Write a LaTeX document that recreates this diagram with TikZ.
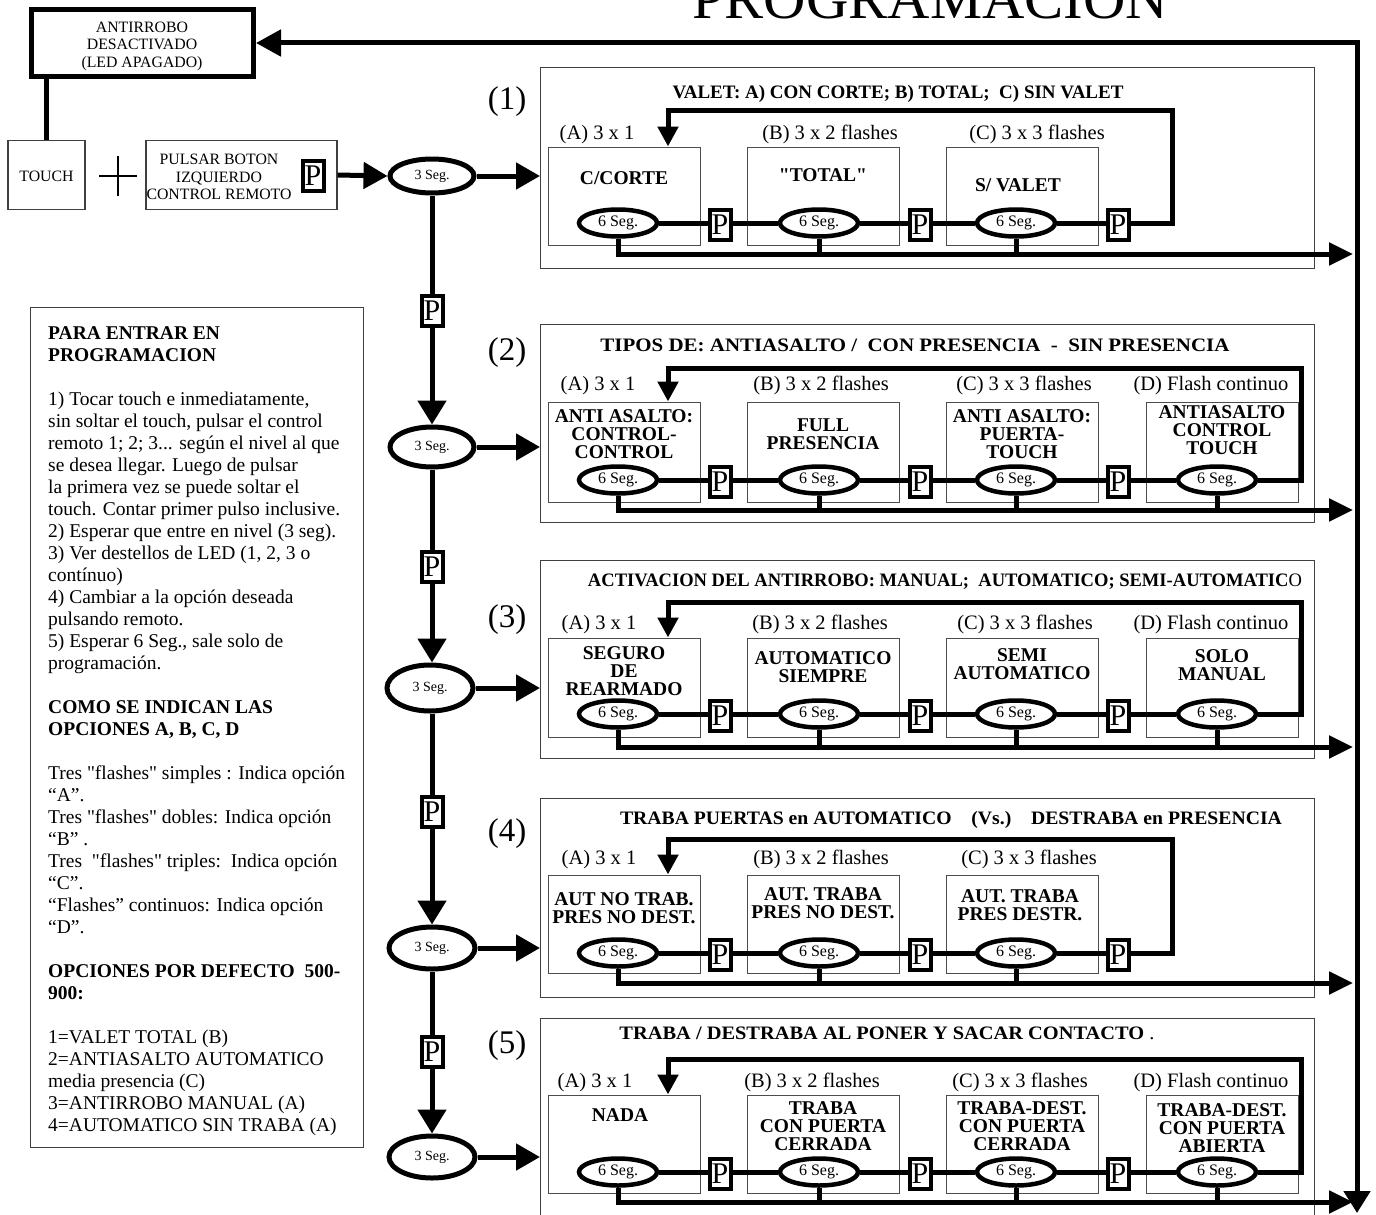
\documentclass[tikz,border=0pt]{standalone}
\usepackage{fontspec}
\setmainfont{Liberation Serif}[Ligatures=TeXOff]
\usepackage{graphicx}
\usetikzlibrary{arrows.meta,shapes.geometric}
\newcommand\fw[2]{\resizebox{#1pt}{\height}{#2}}
\newcommand\fs[2]{\fontsize{#1}{#2}\selectfont}
\tikzset{
 thickline/.style={line width=5pt},
 arrH/.style={thickline,-{Triangle[length=24pt,width=26pt]}},
 arrV/.style={thickline,-{Triangle[length=24pt,width=28pt]}},
 arrLoop/.style={thickline,-{Triangle[length=20pt,width=20pt]}},
 arrBot/.style={thickline,-{Triangle[length=24pt,width=22pt]}},
 panelbox/.style={draw=black!75,line width=1.2pt,inner sep=0pt},
 optbox/.style={draw=black!70,line width=1pt,minimum width=152pt,inner sep=0pt},
 thinbox/.style={draw=black!75,line width=1.2pt,inner sep=0pt},
 pbox/.style={draw,line width=4pt,fill=white,minimum width=21pt,minimum height=30pt,inner sep=0pt,font=\fs{30}{30}},
 ellsix/.style={ellipse,draw,line width=4.5pt,fill=white,minimum width=78pt,minimum height=27pt,inner sep=0pt,font=\fs{16}{16}},
 ellthree/.style={ellipse,draw,line width=5pt,fill=white,minimum width=84pt,inner sep=0pt,font=\fs{14}{14}},
 boxtext/.style={align=center,font=\bfseries\fs{19.5}{18},inner sep=0pt},
 labtext/.style={font=\fs{20.5}{20},inner sep=0pt,anchor=base},
 titletext/.style={font=\bfseries\fs{19}{20},inner sep=0pt,anchor=base},
 numtext/.style={font=\fs{33}{33},inner sep=0pt},
 smalltext/.style={align=center,font=\fs{15.8}{17.5},inner sep=0pt},
}
% #1 id, #2 panel top, #3 panel bottom, #4 loop y, #5 box top, #6 box bottom, #7 ellipse y, #8 bottom line y, #9 number of options
\newcommand\mkpanel[9]{%
 \node[panelbox,anchor=north west,minimum width=774pt,minimum height={(#3-#2)*1pt}] (pan#1) at (540,#2) {};
 \foreach \l/\bx/\ex [count=\i] in {a/624/618,b/823/819,c/1022/1016,d/1222/1217}{%
   \ifnum\i>#9\relax\else
   \node[optbox,minimum height={(#6-#5)*1pt}] (b#1\l) at (\bx,{(#5+#6)/2}) {};
   \node[ellsix] (e#1\l) at (\ex,#7) {6 Seg.};
   \fi}
 \foreach \l/\px in {a/720,b/920,c/1118}{\node[pbox] (p#1\l) at (\px,{#7+2}) {P};}
 \coordinate (lx#1) at (668,#4);
 \coordinate (bl#1) at (1353,#8);
 \draw[thickline] (e#1a.east) -- (e#1a.east -| p#1a.west);
 \draw[thickline] (p#1a.east |- e#1b.west) -- (e#1b.west);
 \draw[thickline] (e#1b.east) -- (e#1b.east -| p#1b.west);
 \draw[thickline] (p#1b.east |- e#1c.west) -- (e#1c.west);
 \draw[thickline] (e#1c.east) -- (e#1c.east -| p#1c.west);
 \draw[arrBot] (e#1a.south) |- (bl#1);
 \draw[thickline] (e#1b.south) -- (e#1b.south |- bl#1);
 \draw[thickline] (e#1c.south) -- (e#1c.south |- bl#1);
 \ifnum#9=4
  \coordinate (lr#1) at (1301,#4);
  \draw[thickline] (p#1c.east |- e#1d.west) -- (e#1d.west);
  \draw[thickline] (e#1d.south) -- (e#1d.south |- bl#1);
  \draw[arrLoop] (e#1d.east) -- (e#1d.east -| lr#1) -- (lr#1) -- (lx#1) -- (lx#1 |- b#1a.north);
 \else
  \coordinate (lr#1) at (1172,#4);
  \draw[arrLoop] (p#1c.east |- e#1c.east) -- (e#1c.east -| lr#1) -- (lr#1) -- (lx#1) -- (lx#1 |- b#1a.north);
 \fi
}
\begin{document}
\begin{tikzpicture}[x=1pt,y=-1pt]
\useasboundingbox (0,0) rectangle (1376,1215);
% title
\node[font=\fs{58}{58},inner sep=0pt,anchor=base] (title) at (930,19) {\fw{476}{PROGRAMACION}};
% top left
\node[draw,line width=5pt,minimum width=222pt,minimum height=67pt,inner sep=0pt] (anti) at (142.5,43) {};
\node[smalltext] (antitxt) at (142,46) {ANTIRROBO\\DESACTIVADO\\(LED APAGADO)};
\node[thinbox,minimum width=77pt,minimum height=69pt] (touch) at (46.5,175) {};
\node[smalltext] (touchtxt) at (46.5,176) {TOUCH};
\node[thinbox,minimum width=191pt,minimum height=69pt] (pulsar) at (241.5,175) {};
\node[smalltext] (pulsartxt) at (219,177) {PULSAR BOTON\\IZQUIERDO\\CONTROL REMOTO};
\node[pbox] (p0) at (313,176) {P};
\coordinate (plus) at (118,176);
\draw[line width=2.2pt] ([xshift=-19pt]plus) -- ([xshift=19pt]plus) ([yshift=-20pt]plus) -- ([yshift=20pt]plus);
\draw[thickline] (touch.north |- anti.south) -- (touch.north);
\coordinate (rtop) at (1357,43);
\coordinate (rbot) at (1357,1213);
\draw[thickline,{Triangle[length=25pt,width=26pt]}-{Triangle[length=22pt,width=26pt]}] (anti.east) -- (rtop) -- (rbot);
% info box
\node[thinbox,anchor=north west,minimum width=333pt,minimum height=840pt] (infobox) at (30,307) {};
\node[anchor=base west,inner sep=0pt,font=\fs{19.5}{22}] (info) at (48,339.5) {\parbox[t]{400pt}{\raggedright
\textbf{PARA ENTRAR EN}\\
\textbf{PROGRAMACION}\\
\mbox{}\\
1) Tocar touch e inmediatamente,\\
sin soltar el touch, pulsar el control\\
remoto 1; 2; 3... según el nivel al que\\
se desea llegar. Luego de pulsar\\
la primera vez se puede soltar el\\
touch. Contar primer pulso inclusive.\\
2) Esperar que entre en nivel (3 seg).\\
3) Ver destellos de LED (1, 2, 3 o\\
contínuo)\\
4) Cambiar a la opción deseada\\
pulsando remoto.\\
5) Esperar 6 Seg., sale solo de\\
programación.\\
\mbox{}\\
\textbf{COMO SE INDICAN LAS}\\
\textbf{OPCIONES A, B, C, D}\\
\mbox{}\\
Tres "flashes" simples : Indica opción\\
“A”.\\
Tres "flashes" dobles: Indica opción\\
“B” .\\
Tres~~"flashes" triples:~~Indica opción\\
“C”.\\
“Flashes” continuos: Indica opción\\
“D”.\\
\mbox{}\\
\textbf{OPCIONES POR DEFECTO~~500-}\\
\textbf{900:}\\
\mbox{}\\
1=VALET TOTAL (B)\\
2=ANTIASALTO AUTOMATICO\\
media presencia (C)\\
3=ANTIRROBO MANUAL (A)\\
4=AUTOMATICO SIN TRABA (A)}};
% panels
\mkpanel{1}{67}{268}{110}{147}{245}{223}{254}{3}
\mkpanel{2}{324}{522}{368}{402}{502}{480}{510}{4}
\mkpanel{3}{560}{758}{602}{638}{737}{714}{747}{4}
\mkpanel{4}{798}{997}{839}{875}{973}{953}{983}{3}
\mkpanel{5}{1018}{1240}{1059}{1095}{1193}{1172}{1202}{4}
% panel titles
\node[titletext] (t1) at (898,98.5) {\fw{451}{VALET: A) CON CORTE; B) TOTAL;~~C) SIN VALET}};
\node[titletext] (t2) at (915,351.5) {\fw{629}{TIPOS DE: ANTIASALTO /~~CON PRESENCIA~~-~~SIN PRESENCIA}};
\node[titletext] (t3) at (945,586.5) {\fw{714}{ACTIVACION DEL ANTIRROBO: MANUAL;~~AUTOMATICO; SEMI-AUTOMATIC\textmd{O}}};
\node[titletext] (t4) at (951,824.5) {\fw{662}{TRABA PUERTAS en AUTOMATICO~~~~(Vs.)~~~~DESTRABA en PRESENCIA}};
\node[titletext] (t5) at (887,1039.5) {\fw{535}{TRABA / DESTRABA AL PONER Y SACAR CONTACTO\textmd{~.}}};
% panel numbers
\node[numtext] (n1) at (507,102) {(1)};
\node[numtext] (n2) at (507,353) {(2)};
\node[numtext] (n3) at (507,620) {(3)};
\node[numtext] (n4) at (507,834) {(4)};
\node[numtext] (n5) at (507,1046) {(5)};
% labels (baseline positions)
\node[labtext] (l1a) at (597,139) {(A) 3 x 1};
\node[labtext] (l1b) at (830,139) {(B) 3 x 2 flashes};
\node[labtext] (l1c) at (1037,139) {(C) 3 x 3 flashes};
\node[labtext] (l2a) at (598,390) {(A) 3 x 1};
\node[labtext] (l2b) at (821,390) {(B) 3 x 2 flashes};
\node[labtext] (l2c) at (1024,390) {(C) 3 x 3 flashes};
\node[labtext] (l2d) at (1211,390) {(D) Flash continuo};
\node[labtext] (l3a) at (599,629) {(A) 3 x 1};
\node[labtext] (l3b) at (820,629) {(B) 3 x 2 flashes};
\node[labtext] (l3c) at (1025,629) {(C) 3 x 3 flashes};
\node[labtext] (l3d) at (1211,629) {(D) Flash continuo};
\node[labtext] (l4a) at (599,864) {(A) 3 x 1};
\node[labtext] (l4b) at (821,864) {(B) 3 x 2 flashes};
\node[labtext] (l4c) at (1029,864) {(C) 3 x 3 flashes};
\node[labtext] (l5a) at (595,1087) {(A) 3 x 1};
\node[labtext] (l5b) at (812,1087) {(B) 3 x 2 flashes};
\node[labtext] (l5c) at (1020,1087) {(C) 3 x 3 flashes};
\node[labtext] (l5d) at (1211,1087) {(D) Flash continuo};
% box texts
\node[boxtext] (x1a) at (624,178) {C/CORTE};
\node[boxtext] (x1b) at (823,175) {"TOTAL"};
\node[boxtext] (x1c) at (1018,185) {S/ VALET};
\node[boxtext] (x2a) at (624,434) {ANTI ASALTO:\\CONTROL-\\CONTROL};
\node[boxtext] (x2b) at (823,434) {FULL\\PRESENCIA};
\node[boxtext] (x2c) at (1022,434) {ANTI ASALTO:\\PUERTA-\\TOUCH};
\node[boxtext] (x2d) at (1222,430) {ANTIASALTO\\CONTROL\\TOUCH};
\node[boxtext] (x3a) at (624,671) {SEGURO\\DE\\REARMADO};
\node[boxtext] (x3b) at (823,667) {AUTOMATICO\\SIEMPRE};
\node[boxtext] (x3c) at (1022,664) {SEMI\\AUTOMATICO};
\node[boxtext] (x3d) at (1222,665) {SOLO\\MANUAL};
\node[boxtext] (x4a) at (624,908) {AUT NO TRAB.\\PRES NO DEST.};
\node[boxtext] (x4b) at (823,903) {AUT. TRABA\\PRES NO DEST.};
\node[boxtext] (x4c) at (1020,905) {AUT. TRABA\\PRES DESTR.};
\node[boxtext] (x5a) at (620,1115) {NADA};
\node[boxtext] (x5b) at (823,1126) {TRABA\\CON PUERTA\\CERRADA};
\node[boxtext] (x5c) at (1022,1126) {TRABA-DEST.\\CON PUERTA\\CERRADA};
\node[boxtext] (x5d) at (1222,1128) {TRABA-DEST.\\CON PUERTA\\ABIERTA};
% left column
\node[ellthree,minimum height=34pt] (s1) at (432,176) {3 Seg.};
\node[ellthree,minimum height=40pt] (s2) at (432,447) {3 Seg.};
\node[ellthree,minimum width=86pt,minimum height=46pt] (s3) at (430,688) {3 Seg.};
\node[ellthree,minimum width=86pt,minimum height=42pt] (s4) at (432,948) {3 Seg.};
\node[ellthree,minimum width=86pt,minimum height=42pt] (s5) at (432,1157) {3 Seg.};
\node[pbox] (q1) at (432,311) {P};
\node[pbox] (q2) at (432,567) {P};
\node[pbox] (q3) at (432,812) {P};
\node[pbox] (q4) at (432,1052) {P};
\draw[arrH] (pulsar.east) -- (s1.west);
\draw[thickline] (s1.south) -- (q1.north);
\draw[arrV] (q1.south) -- (s2.north);
\draw[thickline] (s2.south) -- (q2.north);
\draw[arrV] (q2.south) -- (s3.north -| q2.south);
\draw[thickline] (s3.south -| q3.north) -- (q3.north);
\draw[arrV] (q3.south) -- (s4.north);
\draw[thickline] (s4.south) -- (q4.north);
\draw[arrV] (q4.south) -- (s5.north);
\draw[arrH] (s1.east) -- (s1.east -| pan1.west);
\draw[arrH] (s2.east) -- (s2.east -| pan2.west);
\draw[arrH] (s3.east) -- (s3.east -| pan3.west);
\draw[arrH] (s4.east) -- (s4.east -| pan4.west);
\draw[arrH] (s5.east) -- (s5.east -| pan5.west);
\end{tikzpicture}
\end{document}
